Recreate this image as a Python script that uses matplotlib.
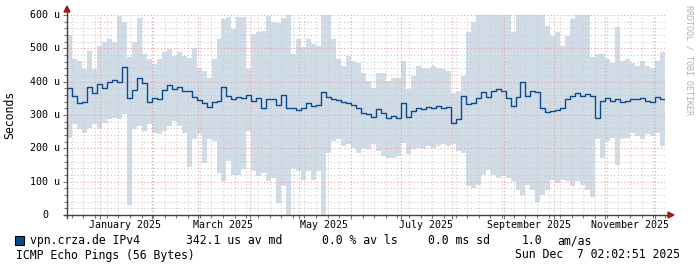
import numpy as np
import matplotlib
matplotlib.use("Agg")
import matplotlib.pyplot as plt
import matplotlib.dates as mdates
from matplotlib.patches import Polygon, Rectangle
from matplotlib.lines import Line2D
import matplotlib.transforms as mtrans

# 3-day bins, last 360 days ending Sun Dec 7 02:02:51 2025
start = np.datetime64("2024-12-12T02:02:51")
step_days = 3

median_us = [380, 358, 335, 340, 385, 365, 392, 380, 400, 405,
             400, 445, 350, 375, 410, 395, 340, 350, 347, 375,
             390, 377, 385, 372, 372, 355, 345, 335, 325, 338,
             342, 385, 357, 348, 355, 350, 360, 342, 350, 320,
             348, 348, 330, 360, 320, 322, 315, 322, 335, 327,
             330, 370, 353, 347, 345, 338, 335, 330, 322, 307,
             302, 295, 317, 305, 292, 297, 292, 335, 295, 312,
             322, 317, 325, 322, 327, 322, 325, 275, 287, 357,
             332, 335, 350, 369, 355, 372, 377, 372, 350, 327,
             355, 400, 357, 372, 368, 322, 310, 312, 315, 322,
             347, 357, 367, 357, 362, 357, 290, 342, 350, 342,
             347, 338, 342, 347, 347, 350, 342, 340, 355, 347]

smoke_hi = [540, 468, 462, 437, 493, 437, 508, 520, 528, 518,
            598, 578, 473, 520, 590, 483, 468, 453, 468, 488,
            498, 478, 490, 478, 470, 500, 442, 432, 412, 468,
            528, 588, 595, 558, 595, 593, 437, 543, 548, 553,
            598, 578, 575, 590, 600, 483, 528, 503, 528, 513,
            508, 600, 600, 528, 468, 447, 478, 462, 457, 427,
            402, 382, 425, 427, 402, 412, 412, 462, 377, 417,
            447, 440, 442, 447, 442, 437, 432, 367, 372, 417,
            548, 578, 600, 600, 600, 600, 600, 600, 600, 548,
            600, 600, 600, 600, 600, 600, 568, 538, 548, 508,
            538, 588, 600, 600, 600, 473, 483, 483, 468, 457,
            563, 462, 468, 457, 447, 462, 447, 437, 462, 488]

smoke_lo = [230, 272, 257, 247, 262, 272, 257, 277, 287, 292,
            287, 302, 30, 257, 267, 252, 272, 247, 242, 252,
            267, 282, 267, 247, 145, 227, 242, 157, 227, 222,
            127, 101, 162, 121, 121, 137, 252, 131, 116, 127,
            101, 111, 37, 86, 0, 141, 131, 106, 131, 106,
            131, 0, 187, 222, 227, 207, 212, 202, 187, 202,
            197, 212, 192, 176, 172, 172, 176, 217, 182, 197,
            202, 197, 207, 202, 207, 212, 207, 212, 192, 187,
            86, 81, 91, 120, 136, 121, 111, 116, 111, 101,
            76, 60, 91, 76, 40, 61, 76, 106, 96, 106,
            101, 86, 101, 91, 76, 55, 227, 170, 222, 232,
            150, 227, 232, 247, 237, 227, 242, 237, 247, 207]

y_labels = ["0", "100 u", "200 u", "300 u", "400 u", "500 u", "600 u"]
x_label_months = ["2025-01", "2025-03", "2025-05", "2025-07", "2025-09", "2025-11"]
x_label_text = ["January 2025", "March 2025", "May 2025", "July 2025",
                "September 2025", "November 2025"]

W, H = 697, 269
MONO = "DejaVu Sans Mono"

def fx(x):
    return x / W

def fy(y):
    return 1 - y / H

t = start + np.arange(len(median_us) + 1) * np.timedelta64(step_days, "D")
m = np.array(median_us + [median_us[-1]])
hi = np.array(smoke_hi + [smoke_hi[-1]])
lo = np.array(smoke_lo + [smoke_lo[-1]])

fig = plt.figure(figsize=(W / 100, H / 100), dpi=100)
fig.patch.set_facecolor("white")
ax = fig.add_axes([fx(67), fy(215), fx(665) - fx(67), fy(15) - fy(215)])
ax.set_facecolor("white")

ax.fill_between(t, lo, hi, step="post", color="#d0dce7", linewidth=0, zorder=1)

# grid
weeks = np.arange(np.datetime64("2024-12-15"), t[-1], np.timedelta64(7, "D"))
months = np.arange(np.datetime64("2025-01"), np.datetime64("2026-01"),
                   np.timedelta64(1, "M")).astype("datetime64[D]")
dot = (0, (1, 2))
for w in weeks:
    if w in months:
        continue
    ax.axvline(w, color="#cccccc", lw=0.8, ls=dot, zorder=2)
for v in range(20, 600, 20):
    if v % 100:
        ax.axhline(v, color="#cccccc", lw=0.8, ls=dot, zorder=2)
for mo in months:
    ax.axvline(mo, color="#e9a3a3", lw=0.8, ls=dot, zorder=2)
for v in range(100, 601, 100):
    ax.axhline(v, color="#e9a3a3", lw=0.8, ls=dot, zorder=2)

ax.plot(t, m, drawstyle="steps-post", color="#0b4a8c", lw=1.0, zorder=3)

ax.set_xlim(t[0], t[-1])
ax.set_ylim(0, 600)
for s in ax.spines.values():
    s.set_visible(False)
ax.set_xticks(months)
ax.set_xticks(weeks, minor=True)
ax.set_yticks(range(0, 601, 100))
ax.set_yticks(range(0, 601, 20), minor=True)
ax.tick_params(which="both", labelbottom=False, labelleft=False,
               direction="out", color="#777777", width=0.8)
ax.tick_params(which="major", length=3)
ax.tick_params(which="minor", length=2)

# axes lines with arrows
axis_col = "#404040"
fig.add_artist(Line2D([fx(64), fx(669)], [fy(215), fy(215)], color=axis_col, lw=1))
fig.add_artist(Line2D([fx(67), fx(67)], [fy(218), fy(11)], color=axis_col, lw=1))
arrow_col = "#a01c1c"
fig.add_artist(Polygon([(fx(668), fy(212)), (fx(668), fy(218)), (fx(674), fy(215))],
                       closed=True, color=arrow_col))
fig.add_artist(Polygon([(fx(64), fy(12)), (fx(70), fy(12)), (fx(67), fy(6))],
                       closed=True, color=arrow_col))

# y labels
ytr = mtrans.blended_transform_factory(fig.transFigure, ax.transData)
for i, lab in enumerate(y_labels):
    xpos = 42 if lab == "0" else 30
    ax.text(fx(xpos), i * 100, lab, transform=ytr, family=MONO, fontsize=7.2,
            ha="left", va="center", color="#000000", clip_on=False)

# x labels at mid-month
xtr = mtrans.blended_transform_factory(ax.transData, fig.transFigure)
for mo, lab in zip(x_label_months, x_label_text):
    pos = mdates.date2num(np.datetime64(mo + "-16"))
    ax.text(pos, fy(225), lab, transform=xtr, family=MONO, fontsize=7.2,
            ha="center", va="center", clip_on=False)

fig.text(fx(10), fy(115), "Seconds", rotation=90, family=MONO, fontsize=8.3,
         ha="center", va="center")
fig.text(fx(688.5), fy(60), "RRDTOOL / TOBI OETIKER", rotation=-90, family=MONO,
         fontsize=6, ha="center", va="center", color="#b0b0b0")

# legend
fig.add_artist(Rectangle((fx(15), fy(245)), fx(9), fy(236) - fy(245),
                         facecolor="#0b4a8c", edgecolor="#000000", lw=0.8))
row1 = fy(240.5)
for xpos, txt in [(30, "vpn.crza.de IPv4"), (186, "342.1 us av md"),
                  (322, "0.0 % av ls"), (428, "0.0 ms sd"),
                  (522, "1.0"), (557, "am/as")]:
    fig.text(fx(xpos), row1, txt, family=MONO, fontsize=8.3, ha="left", va="center")
fig.text(fx(16), fy(255), "ICMP Echo Pings (56 Bytes)", family=MONO, fontsize=8.3,
         ha="left", va="center")
fig.text(fx(680), fy(255), "Sun Dec  7 02:02:51 2025", family=MONO, fontsize=8.3,
         ha="right", va="center")

fig.savefig("out.png", dpi=100)
